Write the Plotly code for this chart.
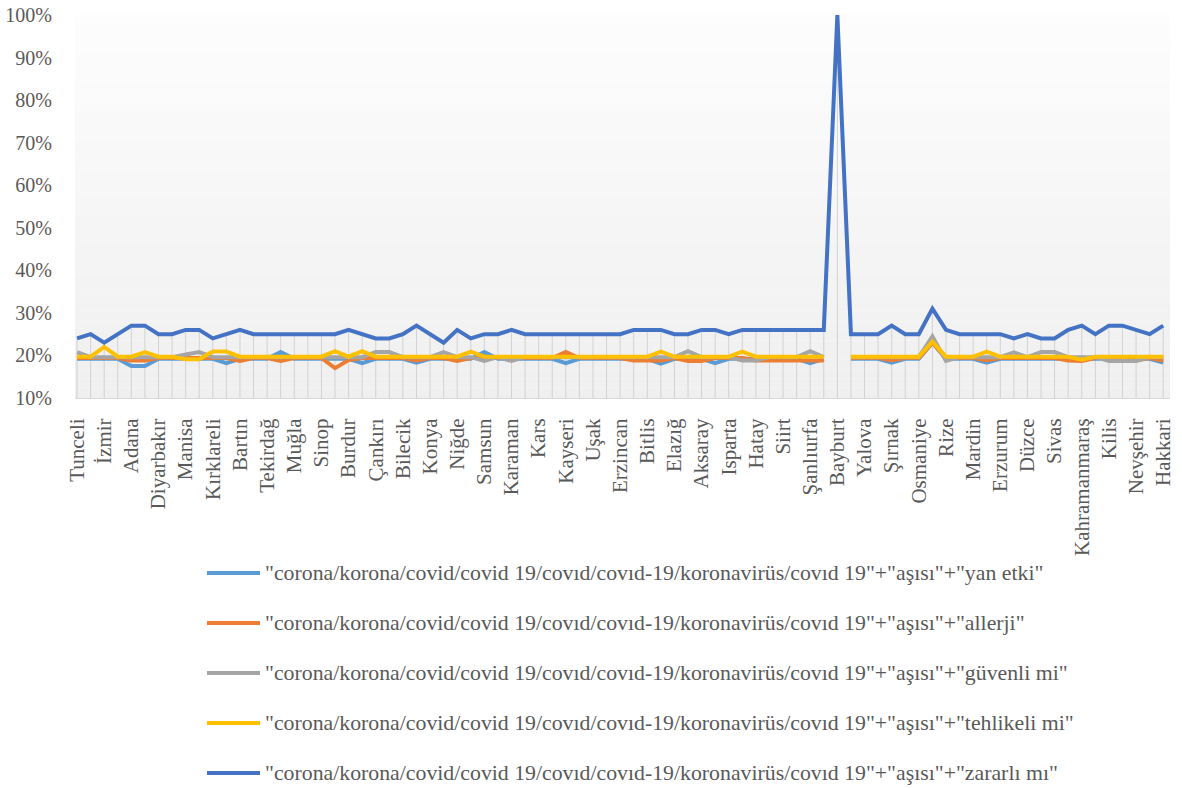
import plotly.graph_objects as go

# Provinces in plotted order (every other one is labelled on the axis)
PROVINCES = [
    "Tunceli", "Ankara", "İzmir", "Muş", "Adana", "Antalya", "Diyarbakır", "Edirne",
    "Manisa", "Eskişehir", "Kırklareli", "Bursa", "Bartın", "Zonguldak", "Tekirdağ", "Kocaeli",
    "Muğla", "Aydın", "Sinop", "Kastamonu", "Burdur", "Denizli", "Çankırı", "Çorum",
    "Bilecik", "Bolu", "Konya", "Kütahya", "Niğde", "Afyonkarahisar", "Samsun", "Amasya",
    "Karaman", "Kırıkkale", "Kars", "Ardahan", "Kayseri", "Yozgat", "Uşak", "Kırşehir",
    "Erzincan", "Malatya", "Bitlis", "Bingöl", "Elazığ", "Tokat", "Aksaray", "Karabük",
    "Isparta", "Trabzon", "Hatay", "Gaziantep", "Siirt", "Batman", "Şanlıurfa", "Giresun",
    "Bayburt", "Gümüşhane", "Yalova", "Ağrı", "Şırnak", "Van", "Osmaniye", "Artvin",
    "Rize", "Mersin", "Mardin", "Adıyaman", "Erzurum", "Iğdır", "Düzce", "Çanakkale",
    "Sivas", "Ordu", "Kahramanmaraş", "Sakarya", "Kilis", "Balıkesir", "Nevşehir", "İstanbul",
    "Hakkari",
]

# Search-interest shares (%) per province for each query
YAN_ETKI = [
    19.2, 19.2, 19.2, 19.2, 17.5, 17.5, 19.2, 19.2, 19.2, 19.2,
    19.2, 18.2, 19.2, 19.2, 19.2, 20.8, 19.2, 19.2, 19.2, 19.2,
    19.2, 18.2, 19.2, 19.2, 19.2, 18.3, 19.2, 19.2, 19.2, 19.2,
    20.8, 19.2, 19.2, 19.2, 19.2, 19.2, 18.2, 19.2, 19.2, 19.2,
    19.2, 19.2, 19.2, 18.1, 19.2, 19.2, 19.2, 18.2, 19.2, 19.2,
    19.2, 19.2, 19.2, 19.2, 18.2, 19.2, None, 19.2, 19.2, 19.2,
    18.3, 19.2, 19.2, 23.0, 19.2, 19.2, 19.2, 18.3, 19.2, 19.2,
    19.2, 19.2, 19.2, 19.2, 19.2, 19.2, 19.2, 19.2, 19.2, 19.2,
    18.3,
]
ALLERJI = [
    19.4, 19.4, 19.4, 19.4, 18.8, 18.8, 19.4, 19.4, 19.4, 19.4,
    19.4, 19.4, 18.7, 19.4, 19.4, 18.7, 19.4, 19.4, 19.4, 17.0,
    18.9, 19.4, 19.4, 19.4, 19.4, 18.8, 19.4, 19.4, 18.7, 19.4,
    19.4, 19.4, 19.4, 19.4, 19.4, 19.4, 20.8, 19.4, 19.4, 19.4,
    19.4, 18.8, 18.8, 18.8, 19.4, 18.7, 18.7, 19.4, 19.4, 19.4,
    18.8, 18.8, 18.8, 18.8, 18.8, 18.8, None, 19.4, 19.4, 19.4,
    18.9, 19.4, 19.4, 23.0, 19.4, 19.4, 19.4, 18.9, 19.4, 19.4,
    19.4, 19.4, 19.4, 18.8, 18.7, 19.4, 19.4, 19.4, 18.8, 19.4,
    18.8,
]
GUVENLI_MI = [
    20.8, 19.6, 19.6, 19.6, 19.6, 19.6, 19.6, 19.6, 20.2, 20.8,
    19.6, 19.6, 19.6, 19.6, 19.6, 19.6, 19.6, 19.6, 19.6, 19.6,
    19.6, 19.6, 20.8, 20.8, 19.6, 19.6, 19.6, 20.8, 19.6, 19.6,
    18.7, 19.6, 18.7, 19.6, 19.6, 19.6, 19.6, 19.6, 19.6, 19.6,
    19.6, 19.6, 19.6, 19.6, 19.6, 21.0, 19.6, 19.6, 19.6, 18.8,
    18.8, 19.6, 19.6, 19.6, 21.0, 19.6, None, 19.6, 19.6, 19.6,
    19.6, 19.6, 19.6, 24.5, 18.7, 19.6, 19.6, 19.6, 19.6, 20.7,
    19.6, 20.8, 20.8, 19.6, 19.6, 19.6, 18.7, 18.7, 18.7, 19.6,
    19.6,
]
TEHLIKELI_MI = [
    19.7, 19.7, 22.0, 19.7, 19.7, 20.8, 19.7, 19.7, 19.1, 19.1,
    20.9, 20.9, 19.7, 19.7, 19.7, 19.7, 19.7, 19.7, 19.7, 21.0,
    19.7, 21.0, 19.7, 19.7, 19.7, 19.7, 19.7, 19.7, 19.7, 20.9,
    19.7, 19.7, 19.7, 19.7, 19.7, 19.7, 19.7, 19.7, 19.7, 19.7,
    19.7, 19.7, 19.7, 20.9, 19.7, 19.7, 19.7, 19.7, 19.7, 20.9,
    19.7, 19.7, 19.7, 19.7, 19.7, 19.7, None, 19.7, 19.7, 19.7,
    19.7, 19.7, 19.7, 23.2, 19.7, 19.7, 19.7, 20.9, 19.7, 19.7,
    19.7, 19.7, 19.7, 19.7, 19.0, 19.7, 19.7, 19.7, 19.7, 19.7,
    19.7,
]
ZARARLI_MI = [
    24, 25, 23, 25, 27, 27, 25, 25, 26, 26,
    24, 25, 26, 25, 25, 25, 25, 25, 25, 25,
    26, 25, 24, 24, 25, 27, 25, 23, 26, 24,
    25, 25, 26, 25, 25, 25, 25, 25, 25, 25,
    25, 26, 26, 26, 25, 25, 26, 26, 25, 26,
    26, 26, 26, 26, 26, 26, 100, 25, 25, 25,
    27, 25, 25, 31, 26, 25, 25, 25, 25, 24,
    25, 24, 24, 26, 27, 25, 27, 27, 26, 25,
    27,
]

QUERY = '"corona/korona/covid/covid 19/covıd/covıd-19/koronavirüs/covıd 19"+"aşısı"+'
SERIES = [
    (QUERY + '"yan etki"', YAN_ETKI, "#5B9BD5"),
    (QUERY + '"allerji"', ALLERJI, "#ED7D31"),
    (QUERY + '"güvenli mi"', GUVENLI_MI, "#A5A5A5"),
    (QUERY + '"tehlikeli mi"', TEHLIKELI_MI, "#FFC000"),
    (QUERY + '"zararlı mı"', ZARARLI_MI, "#4472C4"),
]

Y_MIN, Y_MAX = 10, 100
TEXT_GREY = "#595959"
SERIF = "Liberation Serif, Times New Roman, serif"

# Page geometry (pixels)
W, H = 1182, 788
M_L, M_R, M_T, M_B = 75, 12, 15, 390
PLOT_W, PLOT_H = W - M_L - M_R, H - M_T - M_B


def px_to_paper(x, y):
    return (x - M_L) / PLOT_W, (H - M_B - y) / PLOT_H


fig = go.Figure()

# Drop lines: from the category axis up to the highest value at each province
drop_x, drop_y = [], []
for i, prov in enumerate(PROVINCES):
    top = max(v[i] for _, v, _ in SERIES if v[i] is not None)
    drop_x += [prov, prov, None]
    drop_y += [Y_MIN, top, None]
fig.add_trace(go.Scatter(
    x=drop_x, y=drop_y, mode="lines",
    line=dict(color="#d2d2d2", width=1),
    showlegend=False, hoverinfo="skip",
))

for name, values, color in SERIES:
    fig.add_trace(go.Scatter(
        x=PROVINCES, y=values, mode="lines", name=name,
        line=dict(color=color, width=4), connectgaps=False,
        showlegend=False,
    ))

# Soft vertical gradient behind the plot area
n_bands = 40
top_rgb, bottom_rgb = (253, 253, 253), (239, 239, 239)
for b in range(n_bands):
    t = (b + 0.5) / n_bands
    c = tuple(round(top_rgb[j] + (bottom_rgb[j] - top_rgb[j]) * t) for j in range(3))
    fig.add_shape(
        type="rect", xref="paper", yref="paper",
        x0=0, x1=1, y0=1 - (b + 1) / n_bands, y1=1 - b / n_bands,
        fillcolor="rgb(%d,%d,%d)" % c, line=dict(width=0), layer="below",
    )

# Legend block under the chart: a line sample and the query text per series
LEG_LINE_X0, LEG_LINE_X1, LEG_TEXT_X = 207, 260, 263
LEG_Y0, LEG_STEP = 573, 50
for k, (name, _, color) in enumerate(SERIES):
    yk = LEG_Y0 + k * LEG_STEP
    x0, yp = px_to_paper(LEG_LINE_X0, yk)
    x1, _ = px_to_paper(LEG_LINE_X1, yk)
    xt, _ = px_to_paper(LEG_TEXT_X, yk)
    fig.add_shape(
        type="line", xref="paper", yref="paper",
        x0=x0, x1=x1, y0=yp, y1=yp, line=dict(color=color, width=4),
    )
    fig.add_annotation(
        xref="paper", yref="paper", x=xt, y=yp, xanchor="left", yanchor="middle",
        text=name, showarrow=False,
        font=dict(family=SERIF, size=21.8, color=TEXT_GREY),
    )

tick_text = [p if i % 2 == 0 else "" for i, p in enumerate(PROVINCES)]

fig.update_layout(
    width=W, height=H, autosize=False,
    margin=dict(l=M_L, r=M_R, t=M_T, b=M_B, pad=0),
    paper_bgcolor="white", plot_bgcolor="white",
    font=dict(family=SERIF, color=TEXT_GREY),
    showlegend=False,
    xaxis=dict(
        type="category", categoryorder="array", categoryarray=PROVINCES,
        range=[-0.15, 80.5],
        tickmode="array", tickvals=PROVINCES, ticktext=tick_text,
        tickangle=-90, tickfont=dict(family=SERIF, size=21, color=TEXT_GREY),
        showgrid=False, showline=True, linecolor="#d9d9d9", linewidth=1,
        ticks="", ticklabelstandoff=11, zeroline=False, automargin=False,
    ),
    yaxis=dict(
        range=[Y_MIN, Y_MAX], dtick=10, ticksuffix="%",
        tickfont=dict(family=SERIF, size=20, color=TEXT_GREY),
        showgrid=False, showline=False, zeroline=False,
        ticks="", ticklabelstandoff=22, automargin=False,
    ),
)

fig.write_html("out.html")
